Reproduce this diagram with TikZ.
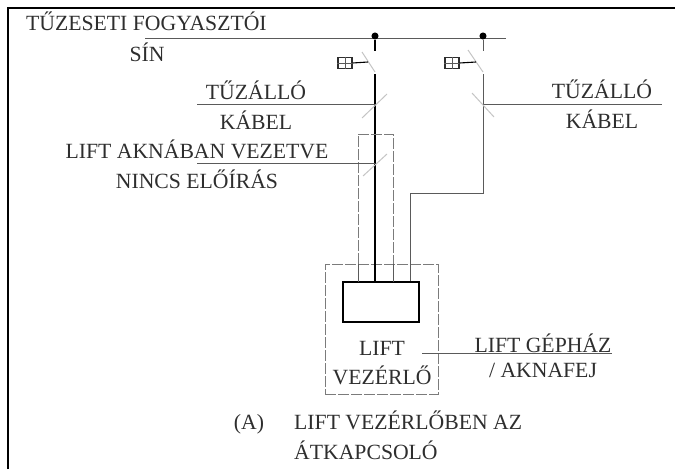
\documentclass[tikz,border=0pt]{standalone}
\usepackage{fontspec}
\setmainfont{Liberation Serif}
\usepackage{xcolor}
\usetikzlibrary{calc}
\definecolor{ink}{HTML}{2E2E2E}
\definecolor{wire}{HTML}{5A5A5A}
\definecolor{tick}{HTML}{C4C4C4}
\tikzset{
  frameline/.style={draw=black, line width=1.3pt},
  bus/.style={draw=wire, line width=1pt},
  feed/.style={draw=black, line width=1.6pt},
  thin/.style={draw=wire, line width=0.95pt},
  blade/.style={draw=tick, line width=1pt},
  slash/.style={draw=tick, line width=1pt},
  zone/.style={draw=wire!80, dash pattern=on 11pt off 2pt, line width=0.8pt},
  pt/.style={circle, fill=black, inner sep=2.5pt},
  handle/.style={draw=ink, line width=1.1pt, minimum width=14pt, minimum height=11pt, inner sep=0pt},
  lab/.style={text=ink, font=\fontsize{21.7}{21.7}\selectfont, inner sep=0pt, anchor=base}
}
\begin{document}
\begin{tikzpicture}[x=1pt,y=-1pt]
  \useasboundingbox (0,0) rectangle (675,469);
  \coordinate (TL) at (8,8);
  \draw[frameline] (8,469) -- (TL) -- (675,8);

  % bus and its two tap points
  \coordinate (busL) at (145,38);
  \coordinate (busR) at (506,38);
  \draw[bus] (busL) -- (busR);
  \node[pt] (tapA) at (375,36) {};
  \node[pt] (tapB) at (483,36) {};

  % switch A
  \coordinate (swAtop) at (375,51);
  \coordinate (swAbot) at (375,74);
  \draw[feed] (tapA) -- (swAtop);
  \draw[blade] (362,52) -- (375,72);
  \node[handle] (boxA) at (345,63) {};
  \draw[thin] (boxA.north) -- (boxA.south) (boxA.west) -- (boxA.east);
  \draw[feed, line width=1.1pt] (boxA.east) -- (368,62);

  % switch B
  \coordinate (swBtop) at (483,51);
  \coordinate (swBbot) at (483,74);
  \draw[thin] (tapB) -- (swBtop);
  \draw[blade] (468,50) -- (483,72);
  \node[handle] (boxB) at (452,63) {};
  \draw[thin] (boxB.north) -- (boxB.south) (boxB.west) -- (boxB.east);
  \draw[feed, line width=1.1pt] (boxB.east) -- (476,62);

  % controller
  \node[draw=black, line width=1.1pt, minimum width=76pt, minimum height=40pt, inner sep=0pt] (ctrl) at (381,302) {};
  \node[zone, minimum width=113pt, minimum height=130pt, inner sep=0pt] (room) at (381.5,329) {};

  % feeders
  \draw[feed] (swAbot) -- (ctrl.north -| swAbot);
  \draw[thin] (swBbot) -- (483,193) -- (410,193) -- (ctrl.north -| 410,0);

  % shaft, dashed above the head room
  \draw[zone] (358,264) -- (358,134) -- (393,134) -- (393,264);
  \draw[thin] (358,264) -- (358,282);
  \draw[thin] (393,264) -- (393,282);

  % leaders
  \draw[thin] (197,104) -- (375,104);
  \draw[thin] (483,104) -- (662,104);
  \draw[thin] (197,163) -- (375,163);
  \draw[thin, line width=0.7pt] (422,353) -- (612,353);
  \draw[slash] (362,118) -- (387,94);
  \draw[slash] (472,93) -- (494,117);
  \draw[slash] (363,176) -- (387,154);

  % labels
  \node[lab, anchor=base west] (lbus) at (26,30) {TŰZESETI FOGYASZTÓI};
  \node[lab] (lsin) at (147,61) {SÍN};
  \node[lab] (lfa) at (256,99) {TŰZÁLLÓ};
  \node[lab] (lka) at (256,129) {KÁBEL};
  \node[lab] (lfb) at (602,98) {TŰZÁLLÓ};
  \node[lab] (lkb) at (602,128) {KÁBEL};
  \node[lab] (lakna) at (197,158) {LIFT AKNÁBAN VEZETVE};
  \node[lab] (lnincs) at (197,188) {NINCS ELŐÍRÁS};
  \node[lab] (llift) at (382,355) {LIFT};
  \node[lab] (lvez) at (382,384) {VEZÉRLŐ};
  \node[lab] (lgep) at (543,352) {LIFT GÉPHÁZ};
  \node[lab] (lfej) at (543,377) {/ AKNAFEJ};
  \node[lab] (la) at (249,429) {(A)};
  \node[lab, anchor=base west] (lcap) at (294,429) {LIFT VEZÉRLŐBEN AZ};
  \node[lab, anchor=base west] (lcapb) at (294,459) {ÁTKAPCSOLÓ};
\end{tikzpicture}
\end{document}
